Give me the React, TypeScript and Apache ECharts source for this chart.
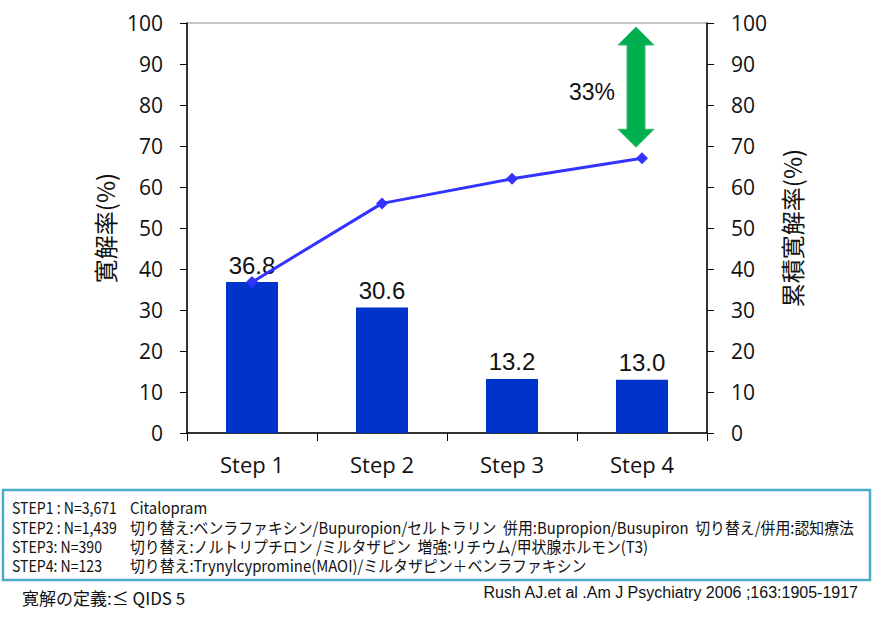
import React, { useEffect, useRef } from "react";
import * as echarts from "echarts";

const categories = ["Step 1", "Step 2", "Step 3", "Step 4"];
const remissionRates = [36.8, 30.6, 13.2, 13.0];
const cumulativeRates = [36.8, 56.0, 62.0, 67.0];
const yTicks = { min: 0, max: 100, interval: 10 };
const gapLabel = "33%";
const gapFrom = 67;
const gapTo = 100;
const leftAxisName = "寛解率(%)";
const rightAxisName = "累積寛解率(%)";
const stepLabels = ["STEP1 : N=3,671", "STEP2 : N=1,439", "STEP3: N=390", "STEP4: N=123"];
const stepTexts = [
  "Citalopram",
  "切り替え:ベンラファキシン/Bupuropion/セルトラリン  併用:Bupropion/Busupiron  切り替え/併用:認知療法",
  "切り替え:ノルトリプチロン /ミルタザピン  増強:リチウム/甲状腺ホルモン(T3)",
  "切り替え:Trynylcypromine(MAOI)/ミルタザピン＋ベンラファキシン",
];
const definitionText = "寛解の定義:≤ QIDS 5";
const citationText = "Rush AJ.et al .Am J Psychiatry 2006 ;163:1905-1917";

const tickFont = "'Open Sans', 'Lato', sans-serif";
const jpFont = "'Noto Sans CJK JP', sans-serif";
const arial = "'Liberation Sans', Arial, sans-serif";

export default function App() {
  const ref = useRef<HTMLDivElement>(null);
  useEffect(() => {
    if (!ref.current) return;
    const chart = echarts.init(ref.current, null, { renderer: "svg" });
    const option: any = {
      animation: false,
      backgroundColor: "#ffffff",
      grid: {
        left: 187,
        right: 167,
        top: 23,
        bottom: 185,
        show: true,
        borderColor: "#8c8c8c",
        borderWidth: 1,
      },
      xAxis: {
        type: "category",
        data: categories,
        axisLine: { lineStyle: { color: "#000", width: 1.5 } },
        axisTick: { show: true, length: 8, lineStyle: { color: "#000" } },
        axisLabel: { fontSize: 22, color: "#111", fontFamily: tickFont, margin: 20 },
      },
      yAxis: [
        {
          type: "value",
          min: yTicks.min,
          max: yTicks.max,
          interval: yTicks.interval,
          name: leftAxisName,
          nameLocation: "middle",
          nameRotate: 90,
          nameGap: 68,
          nameTextStyle: { fontSize: 24, fontFamily: jpFont, color: "#111" },
          axisLine: { show: true, lineStyle: { color: "#000", width: 1.5 } },
          axisTick: { show: true, length: 7, lineStyle: { color: "#000" } },
          axisLabel: { fontSize: 21, color: "#111", fontFamily: tickFont, margin: 24 },
          splitLine: { show: false },
        },
        {
          type: "value",
          min: yTicks.min,
          max: yTicks.max,
          interval: yTicks.interval,
          position: "right",
          name: rightAxisName,
          nameLocation: "middle",
          nameRotate: 90,
          nameGap: 72,
          nameTextStyle: { fontSize: 24, fontFamily: jpFont, color: "#111" },
          axisLine: { show: true, lineStyle: { color: "#000", width: 1.5 } },
          axisTick: { show: true, length: 7, lineStyle: { color: "#000" } },
          axisLabel: { fontSize: 21, color: "#111", fontFamily: tickFont, margin: 24 },
          splitLine: { show: false },
        },
      ],
      series: [
        {
          type: "bar",
          data: remissionRates,
          barWidth: 52,
          itemStyle: { color: "#0033cc" },
          label: {
            show: true,
            position: "top",
            distance: 5,
            fontSize: 24,
            fontFamily: arial,
            color: "#111",
            formatter: (p: any) => Number(p.value).toFixed(1),
          },
          z: 2,
        },
        {
          type: "line",
          yAxisIndex: 1,
          data: cumulativeRates,
          symbol: "diamond",
          symbolSize: 12,
          lineStyle: { color: "#3333ff", width: 3 },
          itemStyle: { color: "#3333ff" },
          z: 3,
        },
      ],
    };
    chart.setOption(option);

    const top = chart.convertToPixel({ xAxisIndex: 0, yAxisIndex: 1 }, [categories.length - 1, gapTo]);
    const bot = chart.convertToPixel({ xAxisIndex: 0, yAxisIndex: 1 }, [categories.length - 1, gapFrom]);
    const cx = top[0] - 6;
    const y1 = top[1] + 4;
    const y2 = bot[1] - 11;
    const hw = 18; // head half width
    const hh = 18; // head height
    const sw = 9; // shaft half width
    const arrowPoints = [
      [cx, y1],
      [cx + hw, y1 + hh],
      [cx + sw, y1 + hh],
      [cx + sw, y2 - hh],
      [cx + hw, y2 - hh],
      [cx, y2],
      [cx - hw, y2 - hh],
      [cx - sw, y2 - hh],
      [cx - sw, y1 + hh],
      [cx - hw, y1 + hh],
    ];

    const graphics: any[] = [
      {
        type: "polygon",
        shape: { points: arrowPoints },
        style: { fill: "#00b050", stroke: "#33c070", lineWidth: 1 },
        z: 10,
      },
      {
        type: "text",
        x: cx - 44,
        y: (y1 + y2) / 2 + 5,
        style: {
          text: gapLabel,
          font: `23px ${arial}`,
          fill: "#111",
          align: "center",
          verticalAlign: "middle",
        },
        z: 10,
      },
      {
        type: "rect",
        shape: { x: 3, y: 490, width: 867, height: 90 },
        style: { fill: "none", stroke: "#4bacc6", lineWidth: 2.5 },
        z: 10,
      },
    ];
    const rowY = [507, 527, 546, 565];
    stepLabels.forEach((lab, i) => {
      graphics.push({
        type: "text",
        x: 12,
        y: rowY[i],
        scaleX: 0.88,
        style: {
          text: lab,
          font: `16px ${jpFont}`,
          fill: "#111",
          verticalAlign: "middle",
        },
        z: 10,
      });
      graphics.push({
        type: "text",
        x: 130,
        y: rowY[i],
        scaleX: 0.93,
        style: {
          text: stepTexts[i],
          font: `16px ${jpFont}`,
          fill: "#111",
          verticalAlign: "middle",
        },
        z: 10,
      });
    });
    graphics.push({
      type: "text",
      x: 22,
      y: 597,
      style: {
        text: definitionText,
        font: `17px ${jpFont}`,
        fill: "#111",
        verticalAlign: "middle",
      },
      z: 10,
    });
    graphics.push({
      type: "text",
      x: 858,
      y: 592,
      style: {
        text: citationText,
        font: `16px ${arial}`,
        fill: "#111",
        align: "right",
        verticalAlign: "middle",
      },
      z: 10,
    });
    chart.setOption({ graphic: graphics });

    return () => chart.dispose();
  }, []);
  return (
    <div
      ref={ref}
      style={{ position: "absolute", left: 0, top: 0, width: 874, height: 618 }}
    />
  );
}
